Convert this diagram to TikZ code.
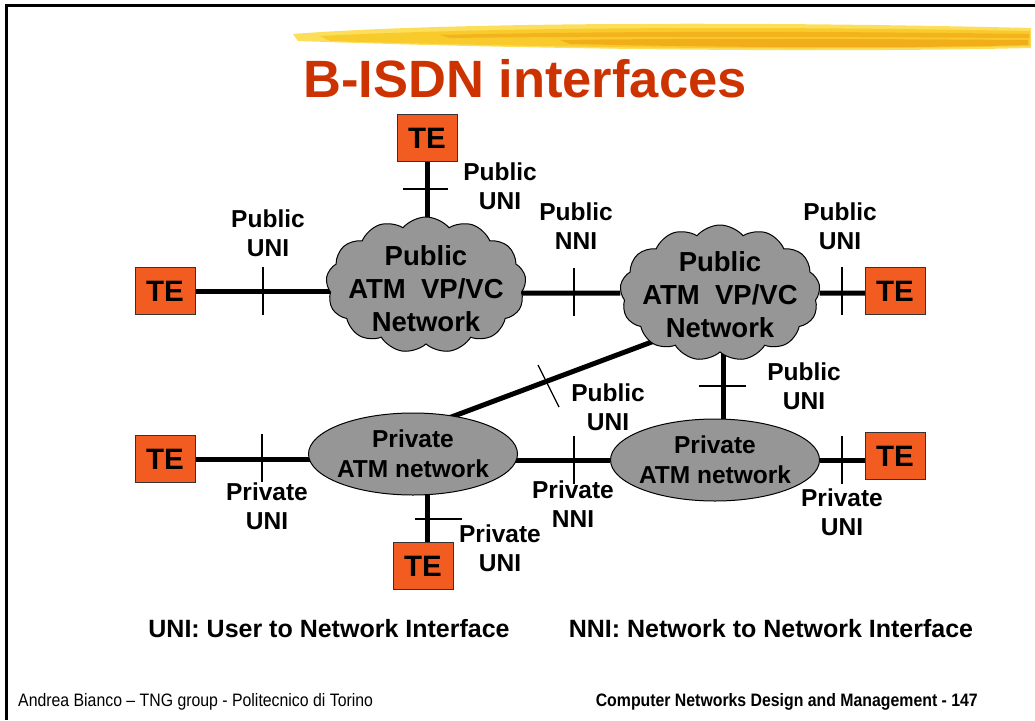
\documentclass[tikz,border=0pt]{standalone}
\usepackage{fontspec}
\setmainfont{Liberation Sans}
\newfontfamily\narrowsf[FakeStretch=0.88]{Liberation Sans}
\usepackage{tikz}
\usetikzlibrary{positioning,arrows.meta,shapes.geometric,shapes.symbols,calc}
\usepackage{xcolor}
\definecolor{teorange}{RGB}{242,92,32}
\definecolor{titlered}{RGB}{204,51,0}
\definecolor{netgray}{RGB}{150,150,150}
\definecolor{brushyellow}{RGB}{248,200,40}
\definecolor{brushorange}{RGB}{240,165,20}
\definecolor{brushlight}{RGB}{252,222,90}
\pgfdeclarelayer{background}
\pgfsetlayers{background,main}

\begin{document}
\begin{tikzpicture}[x=1pt, y=-1pt,
  tebox/.style={draw=black!80, line width=1pt, fill=teorange, minimum width=60pt,
    minimum height=47pt, inner sep=0pt, font=\bfseries\fontsize{29.5}{30}\selectfont},
  pubnet/.style={cloud, cloud puffs=13, cloud puff arc=100, cloud ignores aspect,
    draw=black, line width=1pt, fill=netgray, minimum width=200pt, minimum height=136pt, inner sep=0pt},
  privnet/.style={ellipse, draw=black, line width=1pt, fill=netgray,
    minimum width=209pt, minimum height=82pt, inner sep=0pt},
  nettxt/.style={align=center, font=\bfseries\fontsize{27.5}{33}\selectfont},
  privtxt/.style={align=center, font=\bfseries\fontsize{24.5}{30}\selectfont},
  lbl/.style={align=center, font=\bfseries\fontsize{24.5}{29.5}\selectfont},
  link/.style={line width=5pt},
  tick/.style={line width=1.2pt}]
% one coordinate unit is one pixel of the 1035 x 720 slide, y grows downwards
\useasboundingbox (0,0) rectangle (1035,720);
\draw[line width=3pt] (6,720) -- (6,5.5) -- (1035,5.5);
\fill[brushlight] (293,34) .. controls (420,24) and (700,20) .. (1031,28)
  -- (1031,48) .. controls (820,53) and (520,49) .. (298,41) -- cycle;
\fill[brushyellow, opacity=0.9] (320,36) .. controls (500,27) and (760,26) .. (1030,31)
  -- (1030,46) .. controls (800,51) and (520,47) .. (330,41) -- cycle;
\fill[brushorange, opacity=0.6] (440,35) .. controls (600,31) and (820,31) .. (1029,34)
  -- (1029,38) .. controls (820,37) and (600,36) .. (450,38) -- cycle;
\fill[brushorange, opacity=0.75] (560,40) .. controls (700,38) and (880,39) .. (1028,40)
  -- (1028,45) .. controls (880,49) and (700,47) .. (570,44) -- cycle;
\node[font=\bfseries\fontsize{52.5}{56}\selectfont, text=titlered] (title) at (525,79) {B-ISDN interfaces};

\node[tebox] (teT) at (427,138) {TE};
\node[tebox] (teL) at (165,291) {TE};
\node[tebox] (teR) at (895,291) {TE};
\node[tebox] (teBL) at (165,459) {TE};
\node[tebox] (teB) at (423,566) {TE};
\node[tebox] (teBR) at (895,456) {TE};

\node[pubnet, label={[nettxt, yshift=-4pt]center:{Public\\ATM\ \ VP/VC\\Network}}] (pubA) at (426,285) {};
\node[pubnet, label={[nettxt, yshift=-2pt]center:{Public\\ATM\ \ VP/VC\\Network}}] (pubB) at (720,293) {};
\node[privnet, label={[privtxt]center:{Private\\ATM network}}] (privA) at (413,454) {};
\node[privnet, label={[privtxt]center:{Private\\ATM network}}] (privB) at (715,460) {};

\begin{pgfonlayer}{background}
\draw[link] (teL) -- (teL -| pubA);
\draw[link] (pubA |- pubB) -- (pubB);
\draw[link] (pubB) -- (pubB -| teR);
\draw[link] (teT) -- (teT |- pubA);
\draw[link] ($(pubB)+(3,0)$) -- ($(pubB |- privB)+(3,0)$);
\draw[link] ($(pubB)+(-55,44)$) -- ($(privA)+(33,-35)$);
\draw[link] (teBL) -- (teBL -| privA);
\draw[link] (privA |- privB) -- (privB);
\draw[link] (privB) -- (privB -| teBR);
\draw[link] ($(teB)+(4,0)$) -- ($(teB |- privA)+(4,0)$);
\end{pgfonlayer}

\foreach \x/\y in {263/291, 574/292, 842/291, 262/458, 574/460, 842/460}{%
  \draw[tick] (\x,\y-24) -- (\x,\y+24);}
\draw[tick] (403,189) -- (448,189);
\draw[tick] (699,386) -- (746,386);
\draw[tick] (415,519) -- (462,519);
\draw[tick] (538,365) -- (559,407);

\node[lbl] (lPubUniT) at (500,186) {Public\\UNI};
\node[lbl] (lPubUniL) at (268,233) {Public\\UNI};
\node[lbl] (lPubNni) at (576,226) {Public\\NNI};
\node[lbl] (lPubUniR) at (840,226) {Public\\UNI};
\node[lbl] (lPubUniM) at (608,407) {Public\\UNI};
\node[lbl] (lPubUniD) at (804,386) {Public\\UNI};
\node[lbl] (lPrivUniL) at (267,506) {Private\\UNI};
\node[lbl] (lPrivNni) at (573,504) {Private\\NNI};
\node[lbl] (lPrivUniR) at (842,512) {Private\\UNI};
\node[lbl] (lPrivUniB) at (500,548) {Private\\UNI};

\node[font=\bfseries\fontsize{25}{30}\selectfont] (uniDef) at (329,629) {UNI: User to Network Interface};
\node[font=\bfseries\fontsize{25}{30}\selectfont] (nniDef) at (771,629) {NNI: Network to Network Interface};
\node[anchor=west, inner sep=0pt, font=\narrowsf\fontsize{18}{20}\selectfont] (footL) at (18,702)
  {Andrea Bianco – TNG group - Politecnico di Torino};
\node[anchor=east, inner sep=0pt, font=\narrowsf\bfseries\fontsize{18}{20}\selectfont] (footR) at (978,702)
  {Computer Networks Design and Management - 147};
\end{tikzpicture}
\end{document}
